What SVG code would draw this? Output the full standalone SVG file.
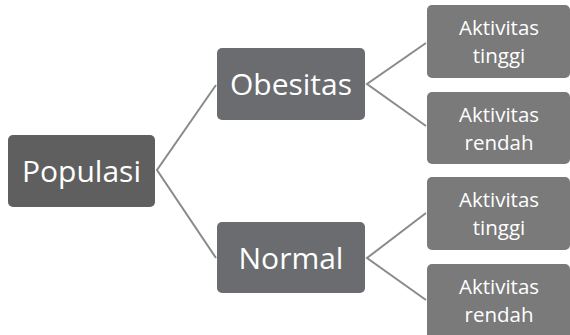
<svg xmlns="http://www.w3.org/2000/svg" width="570" height="335" viewBox="0 0 570 335">
<style>
.root{fill:#5f5f5f}
.mid{fill:#6a6c6f}
.leaf{fill:#7a7a7a}
.t{fill:#ffffff;font-family:"Open Sans","Noto Sans",sans-serif;text-anchor:middle}
.big{font-size:30px}
.small{font-size:20.5px}
.conn{stroke:#8a8a8a;stroke-width:2;fill:none}
</style>
<rect width="570" height="335" fill="#ffffff"/>
<g id="connectors">
<polyline class="conn" points="216,85 157,170 216,258"/>
<polyline class="conn" points="426,43 367,84 426,126"/>
<polyline class="conn" points="426,213 367,258 426,300"/>
</g>
<g id="populasi">
<rect class="root" x="8" y="135" width="147" height="72" rx="5"/>
<text class="t big" x="81.5" y="182">Populasi</text>
</g>
<g id="obesitas">
<rect class="mid" x="217" y="48" width="148" height="72" rx="5"/>
<text class="t big" x="291" y="95">Obesitas</text>
</g>
<g id="normal">
<rect class="mid" x="217" y="222" width="148" height="71" rx="5"/>
<text class="t big" x="291" y="269">Normal</text>
</g>
<g id="leaf1">
<rect class="leaf" x="427" y="5" width="143" height="73" rx="5"/>
<text class="t small" x="499" y="35">Aktivitas</text>
<text class="t small" x="499" y="63">tinggi</text>
</g>
<g id="leaf2">
<rect class="leaf" x="427" y="92" width="143" height="72" rx="5"/>
<text class="t small" x="499" y="122">Aktivitas</text>
<text class="t small" x="499" y="150">rendah</text>
</g>
<g id="leaf3">
<rect class="leaf" x="427" y="177" width="143" height="73" rx="5"/>
<text class="t small" x="499" y="207">Aktivitas</text>
<text class="t small" x="499" y="235">tinggi</text>
</g>
<g id="leaf4">
<rect class="leaf" x="427" y="264" width="143" height="75" rx="5"/>
<text class="t small" x="499" y="294">Aktivitas</text>
<text class="t small" x="499" y="322">rendah</text>
</g>
</svg>
